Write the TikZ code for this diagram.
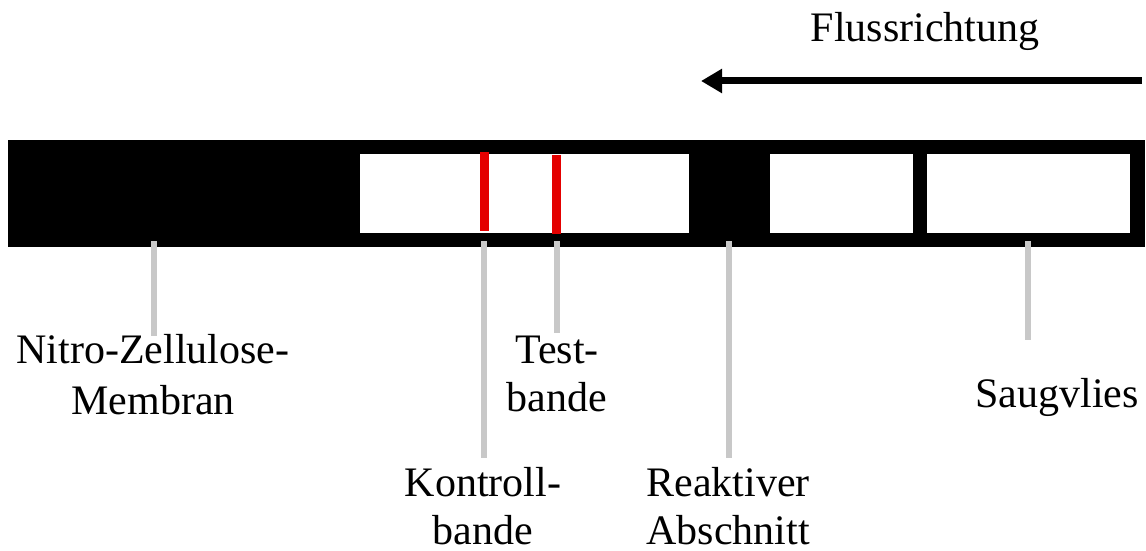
\documentclass[tikz,border=0pt]{standalone}
\usepackage{fontspec}
\setmainfont{Liberation Serif}
\usetikzlibrary{arrows.meta}
\definecolor{bandred}{RGB}{228,0,0}
\definecolor{leadergray}{RGB}{200,200,200}

\begin{document}
\begin{tikzpicture}[x=1pt,y=-1pt,
  block/.style={rectangle, inner sep=0pt, outer sep=0pt, anchor=north west},
  lbl/.style={inner sep=0pt, align=center, font=\fontsize{42}{48}\selectfont},
  leader/.style={draw=leadergray, line width=6.5pt},
]
\useasboundingbox (0,0) rectangle (1146,551);

% test strip body
\node[block, fill=black, minimum width=1137pt, minimum height=107pt] (strip) at (8,140) {};

% white windows
\node[block, fill=white, minimum width=329pt, minimum height=79pt] (win1) at (360,154) {};
\node[block, fill=white, minimum width=143pt, minimum height=79pt] (win2) at (770,154) {};
\node[block, fill=white, minimum width=203pt, minimum height=79pt] (win3) at (927,154) {};

% control and test bands
\node[block, fill=bandred, minimum width=9pt, minimum height=79pt] (kband) at (480,152) {};
\node[block, fill=bandred, minimum width=9pt, minimum height=79pt] (tband) at (552,155) {};

% flow direction
\node[lbl, anchor=base] (flow) at (925,42) {Flussrichtung};
\coordinate (flowstart) at (1142,81);
\coordinate (flowend) at (701,81);
\draw[line width=7pt, -{Triangle[length=21pt,width=23pt]}] (flowstart) -- (flowend);

% labels
\node[lbl, anchor=north, font=\fontsize{42}{51}\selectfont] (nitro) at (153,334) {Nitro-Zellulose-\\Membran};
\node[lbl, anchor=north] (test) at (557,336) {Test-\\bande};
\node[lbl, anchor=north] (kontroll) at (483,467) {Kontroll-\\bande};
\node[lbl, anchor=north] (reakt) at (728,467) {Reaktiver\\Abschnitt};
\node[lbl, anchor=north] (saug) at (1057,378) {Saugvlies};

% leader lines
\coordinate (nitroP) at (154,241);
\coordinate (kontrollP) at (484,241);
\coordinate (testP) at (557,241);
\coordinate (reaktP) at (729,241);
\coordinate (saugP) at (1028,241);
\draw[leader, shorten >=-2pt] (nitroP) -- (nitroP |- nitro.north);
\draw[leader, shorten >=3pt] (testP) -- (testP |- test.north);
\draw[leader, shorten >=9pt] (kontrollP) -- (kontrollP |- kontroll.north);
\draw[leader, shorten >=9pt] (reaktP) -- (reaktP |- reakt.north);
\draw[leader, shorten >=38pt] (saugP) -- (saugP |- saug.north);
\end{tikzpicture}
\end{document}
